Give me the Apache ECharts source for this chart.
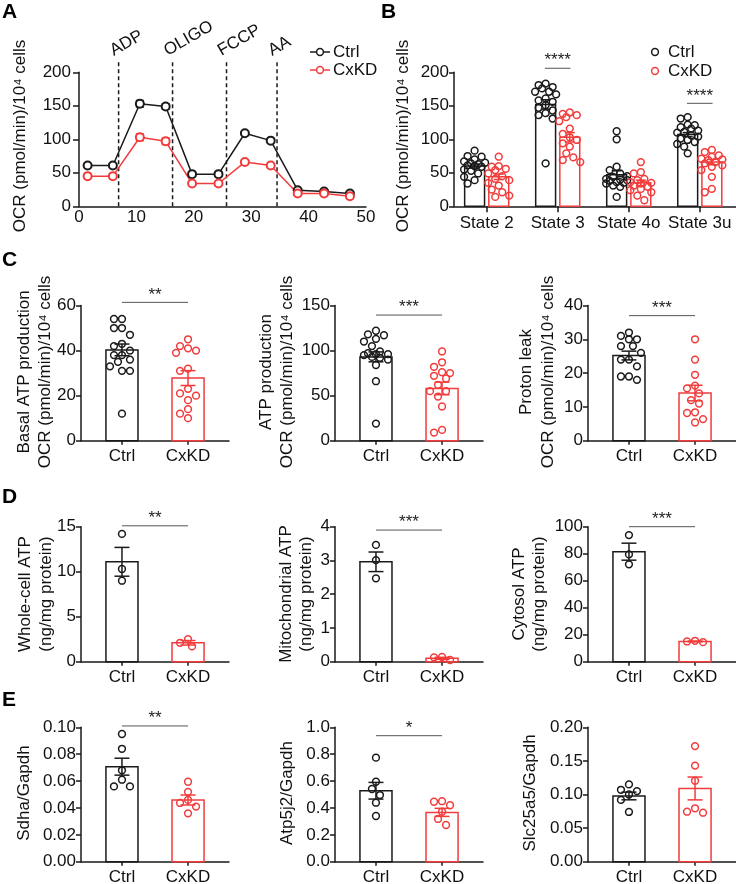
<!DOCTYPE html>
<html>
<head>
<meta charset="utf-8">
<script src="https://cdn.jsdelivr.net/npm/echarts@6.0.0/dist/echarts.min.js"></script>
<style>
  html, body { margin: 0; padding: 0; background: #fff; }
  #chart { width: 736px; height: 884px; }
</style>
</head>
<body>
<div id="chart"></div>
<script>
// ---------------- data ----------------
const groupNames = ['Ctrl', 'CxKD'];

// A: seahorse time course
const timeMin = [1.5, 5.9, 10.6, 15.1, 19.7, 24.3, 28.9, 33.4, 38.1, 42.7, 47.2];
const aCtrlMean = [61, 61, 153, 149, 48, 48, 109, 98, 24, 22, 19];
const aCtrlSem = [2, 2, 5, 4, 3, 3, 2, 2, 1.5, 1.5, 1.5];
const aKdMean = [45, 45, 103, 97, 34, 34, 66, 61, 19, 19, 15];
const aKdSem = [2, 2, 5, 5, 2, 2, 3, 2, 1, 1, 1];
const injections = ['ADP', 'OLIGO', 'FCCP', 'AA'];
const injectionTimes = [6.9, 16.3, 25.7, 34.5];

// B: respiratory states
const stateLabels = ['State 2', 'State 3', 'State 4o', 'State 3u'];
const bCtrlPoints = [
  [83, 75, 74, 70, 67, 65, 64, 63, 61, 60, 59, 55, 53, 49, 44, 39, 34],
  [183, 181, 178, 176, 171, 171, 167, 161, 158, 156, 151, 147, 143, 139, 136, 131, 64],
  [112, 100, 59, 54, 49, 45, 44, 41, 40, 39, 38, 36, 35, 34, 31, 29, 14],
  [133, 131, 122, 121, 118, 116, 113, 111, 110, 106, 104, 101, 99, 96, 93, 89, 79]
];
const bKdPoints = [
  [74, 60, 59, 56, 54, 49, 45, 41, 39, 35, 31, 25, 21, 16, 14],
  [140, 138, 136, 133, 127, 116, 108, 103, 99, 94, 89, 79, 73, 69, 66],
  [66, 51, 49, 41, 39, 36, 35, 34, 31, 29, 26, 24, 21, 16, 9],
  [84, 81, 76, 74, 71, 70, 69, 66, 64, 61, 59, 54, 44, 26, 21]
];
const bCtrlMean = [60, 152, 47, 107];
const bCtrlSem = [3, 7, 6, 3];
const bKdMean = [44, 103, 35, 66];
const bKdSem = [4, 7, 4, 4];

// C: OCR derived parameters
const c1Ctrl = [54, 54, 50, 50, 47, 43, 42, 40, 38, 38, 36, 35, 33, 31, 31, 12];
const c1Kd = [45, 42, 41, 40, 39, 32, 31, 23, 21, 20, 18, 14, 12, 10];
const c1Mean = [40.3, 27.8];
const c1Sem = [2.6, 3.3];
const c2Ctrl = [122, 118, 117, 113, 110, 105, 99, 97, 96, 96, 95, 93, 92, 90, 84, 66, 19];
const c2Kd = [99, 87, 82, 76, 75, 72, 69, 62, 55, 55, 49, 38, 12, 9];
const c2Mean = [93, 58];
const c2Sem = [5.5, 7];
const c3Ctrl = [32, 31, 30, 30, 28, 28, 26, 24, 24, 22, 19, 19, 18];
const c3Kd = [30, 24, 19.5, 16.3, 15.5, 14, 12, 11, 8.4, 8.2, 6.4, 5.4];
const c3Mean = [25.2, 14.1];
const c3Sem = [1.3, 2.3];

// D: ATP content
const d1Ctrl = [14.2, 10.3, 9.0];
const d1Kd = [2.5, 1.7, 2.1];
const d1Mean = [11.1, 2.1];
const d1Sem = [1.6, 0.25];
const d2Ctrl = [3.46, 3.01, 2.47];
const d2Kd = [0.05, 0.14, 0.13];
const d2Mean = [2.96, 0.1];
const d2Sem = [0.29, 0.03];
const d3Ctrl = [93.8, 79.5, 72.1];
const d3Kd = [14.5, 15.0, 15.5];
const d3Mean = [81.5, 15];
const d3Sem = [6.3, 0.3];

// E: transcript levels
const e1Ctrl = [0.095, 0.084, 0.068, 0.061, 0.056, 0.056];
const e1Kd = [0.0595, 0.052, 0.046, 0.0437, 0.041, 0.036];
const e1Mean = [0.0707, 0.0459];
const e1Sem = [0.0063, 0.0037];
const e2Ctrl = [0.774, 0.595, 0.541, 0.496, 0.439, 0.34];
const e2Kd = [0.446, 0.45, 0.42, 0.372, 0.318, 0.273];
const e2Mean = [0.528, 0.367];
const e2Sem = [0.062, 0.03];
const e3Ctrl = [0.115, 0.107, 0.105, 0.100, 0.092, 0.074];
const e3Kd = [0.172, 0.143, 0.1205, 0.0795, 0.0744, 0.0729];
const e3Mean = [0.0978, 0.109];
const e3Sem = [0.0057, 0.017];

// ---------------- styles ----------------
const FONT = '"Liberation Sans", Arial, Helvetica, sans-serif';
const BLACK = '#1a1a1a';
const RED = '#f23c3c';
const COLORS = [BLACK, RED];
const OCR = 'OCR (pmol/min)/10⁴ cells';

const small = [
  { left: 81,  top: 305.5, h: 135.2, yMax: 60,   step: 20,   dec: 0, titles: ['Basal ATP production', OCR], tx: [24, 45],  ty: 372, ctrl: c1Ctrl, kd: c1Kd, mean: c1Mean, sem: c1Sem, sig: ['**', 61.4] },
  { left: 335, top: 305.5, h: 135.2, yMax: 150,  step: 50,   dec: 0, titles: ['ATP production', OCR],       tx: [266, 287], ty: 372, ctrl: c2Ctrl, kd: c2Kd, mean: c2Mean, sem: c2Sem, sig: ['***', 139.4] },
  { left: 588, top: 305.5, h: 135.2, yMax: 40,   step: 10,   dec: 0, titles: ['Proton leak', OCR],          tx: [526, 548], ty: 372, ctrl: c3Ctrl, kd: c3Kd, mean: c3Mean, sem: c3Sem, sig: ['***', 37] },
  { left: 81,  top: 526.7, h: 135,   yMax: 15,   step: 5,    dec: 0, titles: ['Whole-cell ATP', '(ng/mg protein)'],    tx: [25, 46],  ty: 594, ctrl: d1Ctrl, kd: d1Kd, mean: d1Mean, sem: d1Sem, sig: ['**', 15.1] },
  { left: 335, top: 526.7, h: 135,   yMax: 4,    step: 1,    dec: 0, titles: ['Mitochondrial ATP', '(ng/mg protein)'], tx: [286, 306], ty: 594, ctrl: d2Ctrl, kd: d2Kd, mean: d2Mean, sem: d2Sem, sig: ['***', 3.9] },
  { left: 588, top: 526.7, h: 135,   yMax: 100,  step: 20,   dec: 0, titles: ['Cytosol ATP', '(ng/mg protein)'],       tx: [519, 539], ty: 594, ctrl: d3Ctrl, kd: d3Kd, mean: d3Mean, sem: d3Sem, sig: ['***', 100] },
  { left: 81,  top: 727.3, h: 134.4, yMax: 0.1,  step: 0.02, dec: 2, titles: ['Sdha/Gapdh'],    tx: [24],  ty: 793, ctrl: e1Ctrl, kd: e1Kd, mean: e1Mean, sem: e1Sem, sig: ['**', 0.101] },
  { left: 335, top: 727.3, h: 134.4, yMax: 1,    step: 0.2,  dec: 1, titles: ['Atp5j2/Gapdh'],  tx: [287], ty: 793, ctrl: e2Ctrl, kd: e2Kd, mean: e2Mean, sem: e2Sem, sig: ['*', 0.9375] },
  { left: 588, top: 727.3, h: 134.4, yMax: 0.2,  step: 0.05, dec: 2, titles: ['Slc25a5/Gapdh'], tx: [530], ty: 793, ctrl: e3Ctrl, kd: e3Kd, mean: e3Mean, sem: e3Sem, sig: null }
];

// spread points sideways (prism-like), keeping them inside +-limit px
function swarm(values, pxPerUnit, step, minDist, limit) {
  const order = values.map((v, i) => i).sort((a, b) => values[b] - values[a]);
  const placed = [];
  const dx = values.map(() => 0);
  const cands = [0];
  for (let k = 1; k * step <= limit; k++) cands.push(-k * step, k * step);
  order.forEach(i => {
    const y = values[i] * pxPerUnit;
    let best = 0, bestD = -1;
    for (const off of cands) {
      const d = placed.length ? Math.min(...placed.map(p => Math.hypot(p[0] - off, p[1] - y))) : Infinity;
      if (d >= minDist) { best = off; bestD = d; break; }
      if (d > bestD) { bestD = d; best = off; }
    }
    dx[i] = best;
    placed.push([best, y]);
  });
  return dx;
}

// ---------------- renderers ----------------
function barItem(widthUnits) {
  return function (params, api) {
    const x = api.value(0), v = api.value(1);
    const top = api.coord([x, v]), base = api.coord([x, 0]);
    const w = api.size([widthUnits, 0])[0];
    return {
      type: 'rect',
      shape: { x: top[0] - w / 2, y: top[1], width: w, height: base[1] - top[1] },
      style: { fill: '#fff', stroke: COLORS[api.value(2)], lineWidth: 1.5 }
    };
  };
}

function pointItem(params, api) {
  const p = api.coord([api.value(0), api.value(1)]);
  return {
    type: 'circle',
    shape: { cx: p[0] + api.value(2), cy: p[1], r: 3.4 },
    style: { fill: 'none', stroke: COLORS[api.value(3)], lineWidth: 1.5 }
  };
}

function errItem(capHalf) {
  return function (params, api) {
    const x = api.value(0), m = api.value(1), s = api.value(2);
    const hi = api.coord([x, m + s]), lo = api.coord([x, m - s]);
    const st = { stroke: COLORS[api.value(3)], lineWidth: 1.5 };
    return {
      type: 'group',
      children: [
        { type: 'line', shape: { x1: hi[0], y1: hi[1], x2: lo[0], y2: lo[1] }, style: st },
        { type: 'line', shape: { x1: hi[0] - capHalf, y1: hi[1], x2: hi[0] + capHalf, y2: hi[1] }, style: st },
        { type: 'line', shape: { x1: lo[0] - capHalf, y1: lo[1], x2: lo[0] + capHalf, y2: lo[1] }, style: st }
      ]
    };
  };
}

function sigItem(text) {
  return function (params, api) {
    const y = api.value(2);
    const a = api.coord([api.value(0), y]), b = api.coord([api.value(1), y]);
    return {
      type: 'group',
      children: [
        { type: 'line', shape: { x1: a[0], y1: a[1], x2: b[0], y2: b[1] }, style: { stroke: '#555', lineWidth: 1 } },
        { type: 'text', x: (a[0] + b[0]) / 2, y: a[1] + 1,
          style: { text: text, fontSize: 17, fontFamily: FONT, fill: '#222', align: 'center', verticalAlign: 'bottom' } }
      ]
    };
  };
}

function injectionItem(params, api) {
  const t = api.value(0);
  const base = api.coord([t, 0]), top = api.coord([t, 218]);
  return {
    type: 'group',
    children: [
      { type: 'line', shape: { x1: base[0], y1: base[1], x2: top[0], y2: top[1] },
        style: { stroke: BLACK, lineWidth: 1.5, lineDash: [4, 3] } },
      { type: 'text', x: top[0] - 3, y: top[1] - 1, rotation: Math.PI / 6,
        style: { text: injections[params.dataIndex], fontSize: 17, fontFamily: FONT, fill: '#111', align: 'left', verticalAlign: 'bottom' } }
    ]
  };
}

// ---------------- axes helpers ----------------
const axisLineStyle = { color: BLACK, width: 1.5 };
const labelStyle = { fontSize: 17, fontFamily: FONT, color: '#111' };

function valueY(gridIndex, max, interval, dec, margin) {
  return {
    type: 'value', gridIndex, min: 0, max, interval,
    axisLine: { show: true, onZero: false, lineStyle: axisLineStyle },
    axisTick: { show: true, length: 5, lineStyle: axisLineStyle },
    axisLabel: Object.assign({ margin, formatter: v => v.toFixed(dec) }, labelStyle),
    splitLine: { show: false }
  };
}

const grid = [], xAxis = [], yAxis = [], series = [], graphic = [];

// ---- panel A ----
grid.push({ left: 79, top: 72.3, width: 287, height: 134, outerBoundsMode: 'none' });
xAxis.push({
  type: 'value', gridIndex: 0, min: 0, max: 50, interval: 10,
  axisLine: { show: true, onZero: false, lineStyle: axisLineStyle },
  axisTick: { show: false },
  axisLabel: Object.assign({ margin: 3 }, labelStyle),
  splitLine: { show: false }
});
yAxis.push(Object.assign(valueY(0, 200, 50, 0, 8), { axisTick: { show: true, length: 6, lineStyle: axisLineStyle } }));
series.push({
  type: 'custom', xAxisIndex: 0, yAxisIndex: 0, renderItem: injectionItem,
  data: injectionTimes.map(t => [t, 0])
});
series.push({
  type: 'custom', xAxisIndex: 0, yAxisIndex: 0, renderItem: errItem(4),
  data: timeMin.map((t, i) => [t, aCtrlMean[i], aCtrlSem[i], 0])
    .concat(timeMin.map((t, i) => [t, aKdMean[i], aKdSem[i], 1]))
});
[[aCtrlMean, 0], [aKdMean, 1]].forEach(([vals, c]) => {
  series.push({
    type: 'line', name: groupNames[c], xAxisIndex: 0, yAxisIndex: 0,
    data: timeMin.map((t, i) => [t, vals[i]]),
    symbol: 'emptyCircle', symbolSize: 8,
    lineStyle: { color: COLORS[c], width: 1.5 },
    itemStyle: { color: COLORS[c], borderColor: COLORS[c], borderWidth: 1.5 }
  });
});

// ---- panel B ----
grid.push({ left: 454, top: 72.3, width: 282, height: 134, outerBoundsMode: 'none' });
xAxis.push({
  type: 'value', gridIndex: 1, min: -0.46, max: 3.51,
  axisLine: { show: true, onZero: false, lineStyle: axisLineStyle },
  axisTick: { show: true, length: 6, lineStyle: axisLineStyle, customValues: [0, 1, 2, 3] },
  axisLabel: Object.assign({ margin: 9, customValues: [0, 1, 2, 3], formatter: v => stateLabels[Math.round(v)] }, labelStyle),
  splitLine: { show: false }
});
yAxis.push(valueY(1, 200, 50, 0, 5));
const bOff = 0.17, bPx = 134 / 200;
const bBars = [], bPts = [], bErr = [];
stateLabels.forEach((s, k) => {
  [[bCtrlPoints, bCtrlMean, bCtrlSem, -bOff, 0], [bKdPoints, bKdMean, bKdSem, bOff, 1]].forEach(([pts, mean, sem, off, c]) => {
    bBars.push([k + off, mean[k], c]);
    bErr.push([k + off, mean[k], sem[k], c]);
    const dx = swarm(pts[k], bPx, 3.5, 7, 11);
    pts[k].forEach((v, i) => bPts.push([k + off, v, dx[i], c]));
  });
});
series.push({ type: 'custom', xAxisIndex: 1, yAxisIndex: 1, renderItem: barItem(0.28), data: bBars });
series.push({ type: 'custom', xAxisIndex: 1, yAxisIndex: 1, renderItem: pointItem, data: bPts });
series.push({ type: 'custom', xAxisIndex: 1, yAxisIndex: 1, renderItem: errItem(5), data: bErr });
series.push({ type: 'custom', xAxisIndex: 1, yAxisIndex: 1, renderItem: sigItem('****'),
  data: [[1 - 0.18, 1 + 0.18, 206], [3 - 0.18, 3 + 0.18, 153.7]] });

// ---- panels C, D, E ----
small.forEach((p, n) => {
  const g = n + 2;
  grid.push({ left: p.left, top: p.top, width: 148, height: p.h, outerBoundsMode: 'none' });
  xAxis.push({
    type: 'value', gridIndex: g, min: -0.62, max: 1.62,
    axisLine: { show: true, onZero: false, lineStyle: axisLineStyle },
    axisTick: { show: true, length: 4, lineStyle: axisLineStyle, customValues: [0, 1] },
    axisLabel: Object.assign({ margin: 7, customValues: [0, 1], formatter: v => groupNames[Math.round(v)] }, labelStyle),
    splitLine: { show: false }
  });
  yAxis.push(valueY(g, p.yMax, p.step, p.dec, 5));
  const px = p.h / p.yMax;
  const pts = [];
  [p.ctrl, p.kd].forEach((vals, c) => {
    const dx = swarm(vals, px, 4, 8, 14);
    vals.forEach((v, i) => pts.push([c, v, dx[i], c]));
  });
  series.push({ type: 'custom', xAxisIndex: g, yAxisIndex: g, renderItem: barItem(0.485),
    data: [[0, p.mean[0], 0], [1, p.mean[1], 1]] });
  series.push({ type: 'custom', xAxisIndex: g, yAxisIndex: g, renderItem: pointItem, data: pts });
  series.push({ type: 'custom', xAxisIndex: g, yAxisIndex: g, renderItem: errItem(7.5),
    data: [[0, p.mean[0], p.sem[0], 0], [1, p.mean[1], p.sem[1], 1]] });
  if (p.sig) {
    series.push({ type: 'custom', xAxisIndex: g, yAxisIndex: g, renderItem: sigItem(p.sig[0]),
      data: [[0, 1, p.sig[1]]] });
  }
  p.titles.forEach((t, i) => {
    graphic.push({ type: 'text', x: p.tx[i], y: p.ty, rotation: Math.PI / 2,
      style: { text: t, fontSize: 17, fontFamily: FONT, fill: '#111', align: 'center', verticalAlign: 'middle' } });
  });
});

// ---- titles, legends, panel letters ----
graphic.push({ type: 'text', x: 20, y: 136, rotation: Math.PI / 2,
  style: { text: OCR, fontSize: 17, fontFamily: FONT, fill: '#111', align: 'center', verticalAlign: 'middle' } });
graphic.push({ type: 'text', x: 403, y: 136, rotation: Math.PI / 2,
  style: { text: OCR, fontSize: 17, fontFamily: FONT, fill: '#111', align: 'center', verticalAlign: 'middle' } });

[['A', 2, 2], ['B', 381, 2], ['C', 2, 250], ['D', 2, 487], ['E', 2, 690]].forEach(([t, x, y]) => {
  graphic.push({ type: 'text', x, y,
    style: { text: t, fontSize: 21, fontWeight: 'bold', fontFamily: FONT, fill: '#000', align: 'left', verticalAlign: 'top' } });
});

// legend A (line + open circle)
[[52, 0], [70, 1]].forEach(([y, c]) => {
  graphic.push({ type: 'line', shape: { x1: 310, y1: y, x2: 330, y2: y }, style: { stroke: COLORS[c], lineWidth: 1.5 } });
  graphic.push({ type: 'circle', shape: { cx: 320, cy: y, r: 3.4 }, style: { fill: '#fff', stroke: COLORS[c], lineWidth: 1.5 } });
  graphic.push({ type: 'text', x: 333, y, style: { text: groupNames[c], fontSize: 17, fontFamily: FONT, fill: '#111', align: 'left', verticalAlign: 'middle' } });
});
// legend B (open circle)
[[52, 0], [71, 1]].forEach(([y, c]) => {
  graphic.push({ type: 'circle', shape: { cx: 655, cy: y, r: 3.4 }, style: { fill: 'none', stroke: COLORS[c], lineWidth: 1.5 } });
  graphic.push({ type: 'text', x: 668, y, style: { text: groupNames[c], fontSize: 17, fontFamily: FONT, fill: '#111', align: 'left', verticalAlign: 'middle' } });
});

const chart = echarts.init(document.getElementById('chart'), null, { renderer: 'canvas' });
chart.setOption({
  animation: false,
  backgroundColor: '#fff',
  textStyle: { fontFamily: FONT },
  grid, xAxis, yAxis, series, graphic
});
</script>
</body>
</html>
